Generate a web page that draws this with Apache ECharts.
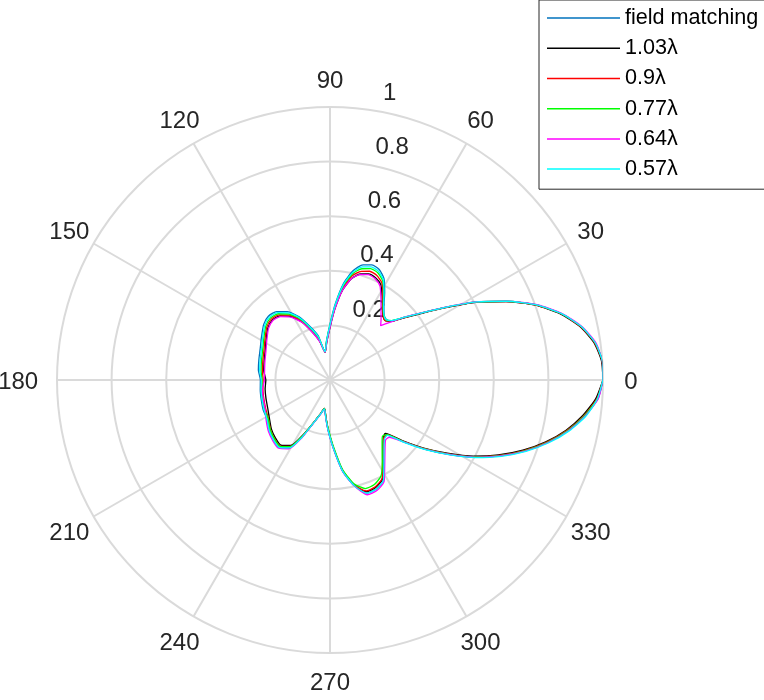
<!DOCTYPE html>
<html>
<head>
<meta charset="utf-8">
<script src="https://cdn.jsdelivr.net/npm/echarts@6/dist/echarts.min.js"></script>
<style>
html,body{margin:0;padding:0;background:#ffffff;}
#chart{width:764px;height:700px;}
</style>
</head>
<body>
<div id="chart"></div>
<script>
// ---- data ----
const angles = [0,4,8,12,16,20,24,28,32,36,40,44,47,50,54,58,62,66,70,74,78,82,86,90,95,100,105,110,116,122,128,134,140,148,156,164,172,180,188,196,204,212,220,227,233,239,244,249,254,259,264,268,273,278,283,288,293,298,302,306,310,313,316,320,324,328,332,336,340,344,348,352,356,360];

const seriesNames = ['field matching','1.03\u03bb','0.9\u03bb','0.77\u03bb','0.64\u03bb','0.57\u03bb'];

const rFieldMatching = [1.000,1.000,0.980,0.940,0.881,0.804,0.708,0.608,0.503,0.419,0.357,0.312,0.303,0.309,0.336,0.378,0.421,0.443,0.449,0.439,0.410,0.358,0.280,0.205,0.145,0.105,0.168,0.206,0.258,0.295,0.318,0.325,0.317,0.296,0.280,0.271,0.265,0.255,0.258,0.262,0.268,0.272,0.290,0.302,0.309,0.290,0.232,0.168,0.132,0.108,0.143,0.186,0.253,0.339,0.398,0.436,0.434,0.416,0.370,0.334,0.306,0.291,0.290,0.353,0.432,0.514,0.602,0.683,0.760,0.830,0.892,0.943,0.984,1.000];

const r103 = [1.000,0.997,0.977,0.937,0.878,0.801,0.705,0.605,0.500,0.416,0.354,0.309,0.297,0.303,0.326,0.360,0.396,0.410,0.414,0.404,0.380,0.333,0.262,0.193,0.138,0.103,0.148,0.186,0.238,0.275,0.298,0.305,0.297,0.276,0.260,0.251,0.245,0.235,0.240,0.244,0.250,0.262,0.280,0.292,0.299,0.280,0.222,0.166,0.130,0.106,0.140,0.183,0.250,0.336,0.395,0.430,0.428,0.410,0.366,0.330,0.302,0.287,0.282,0.345,0.424,0.506,0.594,0.675,0.752,0.822,0.884,0.935,0.976,1.000];

const r090 = [1.000,0.999,0.979,0.939,0.880,0.803,0.707,0.607,0.502,0.418,0.356,0.311,0.297,0.303,0.329,0.365,0.404,0.420,0.424,0.414,0.390,0.341,0.267,0.197,0.141,0.103,0.153,0.191,0.243,0.280,0.303,0.310,0.302,0.281,0.265,0.256,0.250,0.245,0.248,0.252,0.258,0.266,0.284,0.296,0.303,0.284,0.226,0.166,0.130,0.106,0.140,0.183,0.250,0.336,0.395,0.427,0.425,0.407,0.363,0.332,0.304,0.289,0.287,0.349,0.428,0.510,0.598,0.679,0.756,0.826,0.888,0.939,0.980,1.000];

const r077 = [1.000,1.000,0.981,0.941,0.882,0.805,0.709,0.609,0.504,0.420,0.358,0.313,0.301,0.307,0.331,0.370,0.411,0.430,0.434,0.424,0.398,0.348,0.272,0.200,0.143,0.105,0.158,0.196,0.248,0.285,0.308,0.315,0.307,0.286,0.270,0.261,0.255,0.249,0.252,0.256,0.262,0.267,0.285,0.297,0.304,0.285,0.227,0.166,0.130,0.106,0.140,0.178,0.245,0.331,0.390,0.418,0.416,0.398,0.361,0.325,0.297,0.282,0.288,0.351,0.430,0.512,0.600,0.681,0.758,0.828,0.890,0.941,0.982,1.000];

const r064 = [1.000,1.000,0.983,0.943,0.884,0.807,0.711,0.611,0.506,0.422,0.360,0.304,0.272,0.291,0.318,0.352,0.390,0.406,0.411,0.402,0.380,0.333,0.262,0.193,0.138,0.103,0.145,0.183,0.235,0.272,0.295,0.302,0.294,0.273,0.257,0.248,0.242,0.240,0.250,0.254,0.260,0.276,0.294,0.306,0.313,0.294,0.236,0.169,0.133,0.109,0.144,0.187,0.254,0.340,0.399,0.442,0.440,0.422,0.378,0.342,0.314,0.299,0.302,0.354,0.433,0.515,0.603,0.684,0.761,0.831,0.893,0.944,0.985,1.000];

const r057 = [1.000,1.000,0.981,0.941,0.882,0.805,0.709,0.609,0.504,0.420,0.358,0.313,0.302,0.308,0.334,0.373,0.416,0.436,0.441,0.431,0.404,0.353,0.276,0.203,0.144,0.105,0.163,0.201,0.253,0.290,0.313,0.320,0.312,0.291,0.275,0.266,0.260,0.252,0.255,0.259,0.265,0.272,0.290,0.302,0.309,0.290,0.232,0.168,0.132,0.108,0.143,0.186,0.253,0.339,0.398,0.436,0.434,0.416,0.372,0.336,0.308,0.293,0.292,0.357,0.436,0.518,0.606,0.687,0.764,0.834,0.896,0.947,0.982,1.000];

const thetaTicks = [0,30,60,90,120,150,180,210,240,270,300,330];
const thetaTickLabels = ['0','30','60','90','120','150','180','210','240','270','300','330'];
const rTicks = [0.2,0.4,0.6,0.8,1];
const rTickLabels = ['0.2','0.4','0.6','0.8','1'];

// ---- styling ----
const FONT = 'Liberation Sans, Arial, Helvetica, sans-serif';
const GRID = '#dadada';
const TXT = '#262626';
const colors = ['#0072BD','#000000','#FF0000','#00FF00','#FF00FF','#00FFFF'];
const radii = [rFieldMatching, r103, r090, r077, r064, r057];
const rLabelAngle = 82;
const EXTRA_PER_CHAR = 5.4; // outward push per extra character for horizontal labels

// horizontal labels (0 / 180) are pushed outward by their extra width
function thetaLabelItem(t, i) {
  const c = Math.cos(t * Math.PI / 180);
  const len = thetaTickLabels[i].length;
  const dx = Math.abs(c) > 0.95 ? Math.sign(c) * (len - 1) * EXTRA_PER_CHAR : 0;
  return { value: [1, t], label: { offset: [dx, 2.5] } };
}

const lineSeries = radii.map((arr, i) => ({
  name: seriesNames[i],
  type: 'line',
  coordinateSystem: 'polar',
  polarIndex: 0,
  data: arr.map((r, k) => [r, angles[k]]),
  showSymbol: false,
  symbol: 'none',
  smooth: 0.2,
  lineStyle: { color: colors[i], width: 1.3 },
  itemStyle: { color: colors[i] },
  z: 3,
  silent: true
}));

const chart = echarts.init(document.getElementById('chart'), null, { renderer: 'canvas' });
chart.setOption({
  animation: false,
  backgroundColor: '#ffffff',
  polar: [
    { center: [330, 380], radius: 273 },
    { center: [330, 380], radius: 301 }
  ],
  angleAxis: [
    {
      polarIndex: 0,
      type: 'value', min: 0, max: 360, interval: 30,
      startAngle: 0, clockwise: false,
      axisLine: { show: false },
      axisTick: { show: false },
      axisLabel: { show: false },
      splitLine: { show: true, lineStyle: { color: GRID, width: 2 } }
    },
    {
      polarIndex: 1,
      type: 'value', min: 0, max: 360, interval: 30,
      startAngle: 0, clockwise: false,
      axisLine: { show: false }, axisTick: { show: false },
      axisLabel: { show: false }, splitLine: { show: false }
    }
  ],
  radiusAxis: [
    {
      polarIndex: 0,
      type: 'value', min: 0, max: 1, interval: 0.2,
      axisLine: { show: false },
      axisTick: { show: false },
      axisLabel: { show: false },
      splitLine: { show: true, lineStyle: { color: GRID, width: 2 } }
    },
    {
      polarIndex: 1,
      type: 'value', min: 0, max: 1, interval: 0.2,
      axisLine: { show: false }, axisTick: { show: false },
      axisLabel: { show: false }, splitLine: { show: false }
    }
  ],
  legend: {
    orient: 'vertical',
    left: 539, top: 0,
    padding: [7, 30, 9, 8],
    itemGap: 8,
    itemWidth: 73,
    itemHeight: 1.5,
    itemTextGap: 7,
    icon: 'rect',
    borderColor: '#262626',
    borderWidth: 1,
    backgroundColor: '#ffffff',
    data: seriesNames,
    textStyle: { fontFamily: FONT, fontSize: 21.6, color: '#000000', lineHeight: 22.2 }
  },
  series: [
    {
      type: 'scatter', coordinateSystem: 'polar', polarIndex: 1,
      data: thetaTicks.map(thetaLabelItem),
      symbolSize: 0, itemStyle: { color: TXT, opacity: 1 },
      silent: true, z: 1,
      label: {
        show: true, position: 'inside', align: 'center', verticalAlign: 'middle',
        offset: [0, 2.5],
        formatter: p => thetaTickLabels[p.dataIndex],
        fontFamily: FONT, fontSize: 24, color: TXT, opacity: 1,
        textBorderWidth: 0
      }
    },
    {
      type: 'scatter', coordinateSystem: 'polar', polarIndex: 0,
      data: rTicks.map(r => [r, rLabelAngle]),
      symbolSize: 0, itemStyle: { color: TXT, opacity: 1 },
      silent: true, z: 1,
      label: {
        show: true, position: [15, -4], align: 'left', verticalAlign: 'bottom',
        formatter: p => rTickLabels[p.dataIndex],
        fontFamily: FONT, fontSize: 24, color: TXT, opacity: 1,
        textBorderWidth: 0
      }
    }
  ].concat(lineSeries)
});
</script>
</body>
</html>
